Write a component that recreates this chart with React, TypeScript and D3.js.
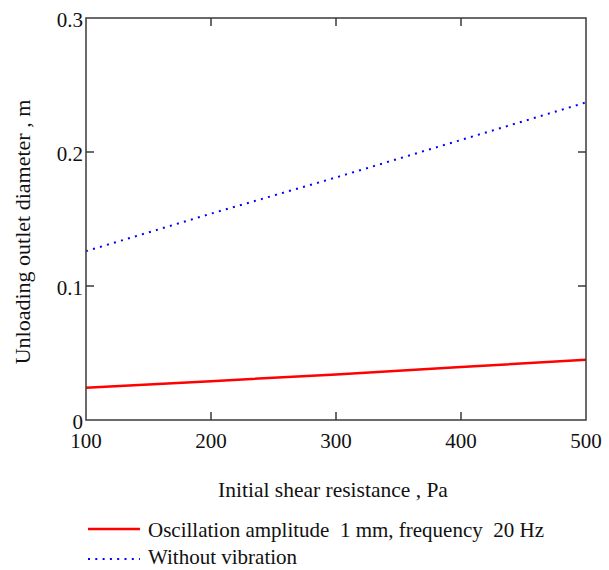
import * as d3 from 'd3'

const shear = [100, 200, 300, 400, 500]
const withVibration = [0.024, 0.029, 0.034, 0.0395, 0.045]
const withoutVibration = [0.126, 0.154, 0.181, 0.209, 0.237]
const xTicks = [100, 200, 300, 400, 500]
const yTicks = [0, 0.1, 0.2, 0.3]
const legendLabels = ['Oscillation amplitude  1 mm, frequency  20 Hz', 'Without vibration']

const margin = { left: 86, top: 18, right: 586, bottom: 420 }
const font = '"Liberation Serif", "Times New Roman", serif'

export default function App() {
  const x = d3.scaleLinear().domain([100, 500]).range([margin.left, margin.right])
  const y = d3.scaleLinear().domain([0, 0.3]).range([margin.bottom, margin.top])

  const line = d3
    .line<number>()
    .x((_, i) => x(shear[i]))
    .y(d => y(d))

  const series = [
    { values: withVibration, color: '#ff0000', width: 2.5, dash: undefined },
    { values: withoutVibration, color: '#0000ff', width: 2, dash: '2,5.3' },
  ]

  return (
    <svg width={609} height={570} style={{ position: 'absolute', left: 0, top: 0 }}>
      <rect width={609} height={570} fill="white" />
      {series.map((s, i) => (
        <path
          key={i}
          d={line(s.values) ?? ''}
          fill="none"
          stroke={s.color}
          strokeWidth={s.width}
          strokeDasharray={s.dash}
        />
      ))}
      <rect
        x={margin.left}
        y={margin.top}
        width={margin.right - margin.left}
        height={margin.bottom - margin.top}
        fill="none"
        stroke="#3a3a3a"
        strokeWidth={1.5}
      />
      {xTicks.map(t => (
        <g key={t}>
          {t > 100 && t < 500 && (
            <>
              <line x1={x(t)} x2={x(t)} y1={margin.bottom} y2={margin.bottom - 8} stroke="#3a3a3a" strokeWidth={1.5} />
              <line x1={x(t)} x2={x(t)} y1={margin.top} y2={margin.top + 8} stroke="#3a3a3a" strokeWidth={1.5} />
            </>
          )}
          <text x={x(t)} y={448} textAnchor="middle" fontFamily={font} fontSize={21} fill="#111">
            {t}
          </text>
        </g>
      ))}
      {yTicks.map(t => (
        <g key={t}>
          {t > 0 && t < 0.3 && (
            <>
              <line x1={margin.left} x2={margin.left + 8} y1={y(t)} y2={y(t)} stroke="#3a3a3a" strokeWidth={1.5} />
              <line x1={margin.right} x2={margin.right - 8} y1={y(t)} y2={y(t)} stroke="#3a3a3a" strokeWidth={1.5} />
            </>
          )}
          <text x={83} y={y(t) + 9} textAnchor="end" fontFamily={font} fontSize={21} fill="#111">
            {t === 0 ? '0' : t.toFixed(1)}
          </text>
        </g>
      ))}
      <text
        transform="translate(30, 232) rotate(-90)"
        textAnchor="middle"
        fontFamily={font}
        fontSize={22}
        fill="#111"
      >
        Unloading outlet diameter , m
      </text>
      <text x={333} y={497} textAnchor="middle" fontFamily={font} fontSize={21.5} fill="#111">
        Initial shear resistance , Pa
      </text>
      {legendLabels.map((label, i) => (
        <g key={label}>
          <line
            x1={88}
            x2={140}
            y1={529 + i * 30}
            y2={529 + i * 30}
            stroke={series[i].color}
            strokeWidth={series[i].width}
            strokeDasharray={series[i].dash}
          />
          <text
            x={148}
            y={537 + i * 27}
            fontFamily={font}
            fontSize={21}
            fill="#111"
            style={{ whiteSpace: 'pre' }}
          >
            {label}
          </text>
        </g>
      ))}
    </svg>
  )
}
